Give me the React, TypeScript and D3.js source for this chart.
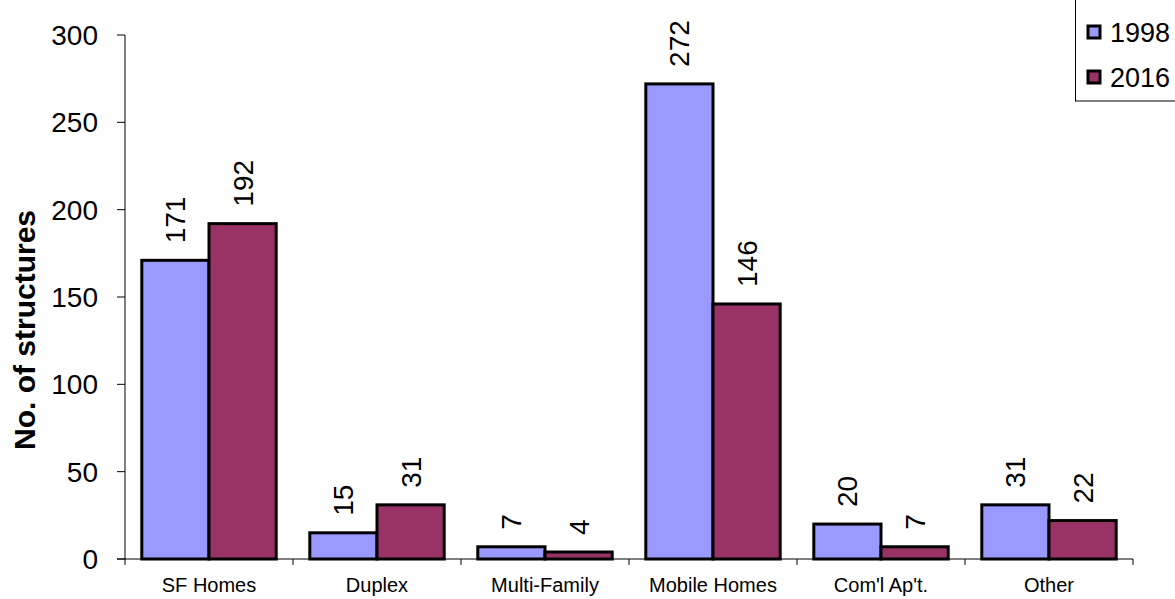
import React from "react";
import * as d3 from "d3";

const categories = ["SF Homes", "Duplex", "Multi-Family", "Mobile Homes", "Com'l Ap't.", "Other"];
const seriesNames = ["1998", "2016"];
const values1998 = [171, 15, 7, 272, 20, 31];
const values2016 = [192, 31, 4, 146, 7, 22];
const yTicks = [0, 50, 100, 150, 200, 250, 300];
const colors = ["#9999FF", "#993366"];

export default function App() {
  const W = 1175, H = 599;
  const left = 125, right = 1133, top = 35, bottom = 559;
  const x = d3.scaleBand().domain(categories).range([left, right]).paddingInner(0).paddingOuter(0);
  const y = d3.scaleLinear().domain([0, 300]).range([bottom, top]);
  const bw = x.bandwidth() * 0.4;
  const off = x.bandwidth() * 0.1;
  const series = [values1998, values2016];
  const font = "Arial, 'Liberation Sans', sans-serif";
  return (
    <svg width={W} height={H} style={{ position: "absolute", left: 0, top: 0 }} fontFamily={font}>
      <rect x={0} y={0} width={W} height={H} fill="#fff" />
      {categories.map((c, i) =>
        series.map((vals, s) => {
          const bx = (x(c) as number) + off + s * bw;
          return (
            <rect key={c + s} x={bx} y={y(vals[i])} width={bw} height={y(0) - y(vals[i])}
              fill={colors[s]} stroke="#000" strokeWidth={3} />
          );
        })
      )}
      {categories.map((c, i) =>
        series.map((vals, s) => {
          const cx = (x(c) as number) + off + s * bw + bw / 2;
          const ty = y(vals[i]) - 17;
          return (
            <text key={"l" + c + s} transform={`translate(${cx + 10},${ty}) rotate(-90)`} fontSize={28} fill="#000">
              {vals[i]}
            </text>
          );
        })
      )}
      <line x1={left} x2={left} y1={top} y2={bottom} stroke="#000" strokeWidth={1} />
      {yTicks.map(t => (
        <g key={t}>
          <line x1={left - 8} x2={left} y1={y(t)} y2={y(t)} stroke="#000" strokeWidth={1} />
          <text x={left - 27} y={y(t) + 10} textAnchor="end" fontSize={28} fill="#000">{t}</text>
        </g>
      ))}
      <line x1={left - 8} x2={right} y1={bottom} y2={bottom} stroke="#000" strokeWidth={1} />
      {d3.range(categories.length + 1).map(k => (
        <line key={k} x1={left + k * x.bandwidth()} x2={left + k * x.bandwidth()} y1={bottom} y2={bottom + 6} stroke="#000" strokeWidth={1} />
      ))}
      {categories.map(c => (
        <text key={"c" + c} x={(x(c) as number) + x.bandwidth() / 2} y={592} textAnchor="middle" fontSize={20} fill="#000">{c}</text>
      ))}
      <text transform={`translate(35,330) rotate(-90)`} textAnchor="middle" fontSize={30} fontWeight="bold" fill="#000">
        No. of structures
      </text>
      <rect x={1075.5} y={-1} width={102} height={102} fill="#fff" stroke="#000" strokeWidth={1} />
      {seriesNames.map((n, s) => (
        <g key={n}>
          <rect x={1088} y={26 + s * 45} width={12} height={12} fill={colors[s]} stroke="#000" strokeWidth={3} />
          <text x={1110} y={42 + s * 45} fontSize={27} fill="#000">{n}</text>
        </g>
      ))}
    </svg>
  );
}
